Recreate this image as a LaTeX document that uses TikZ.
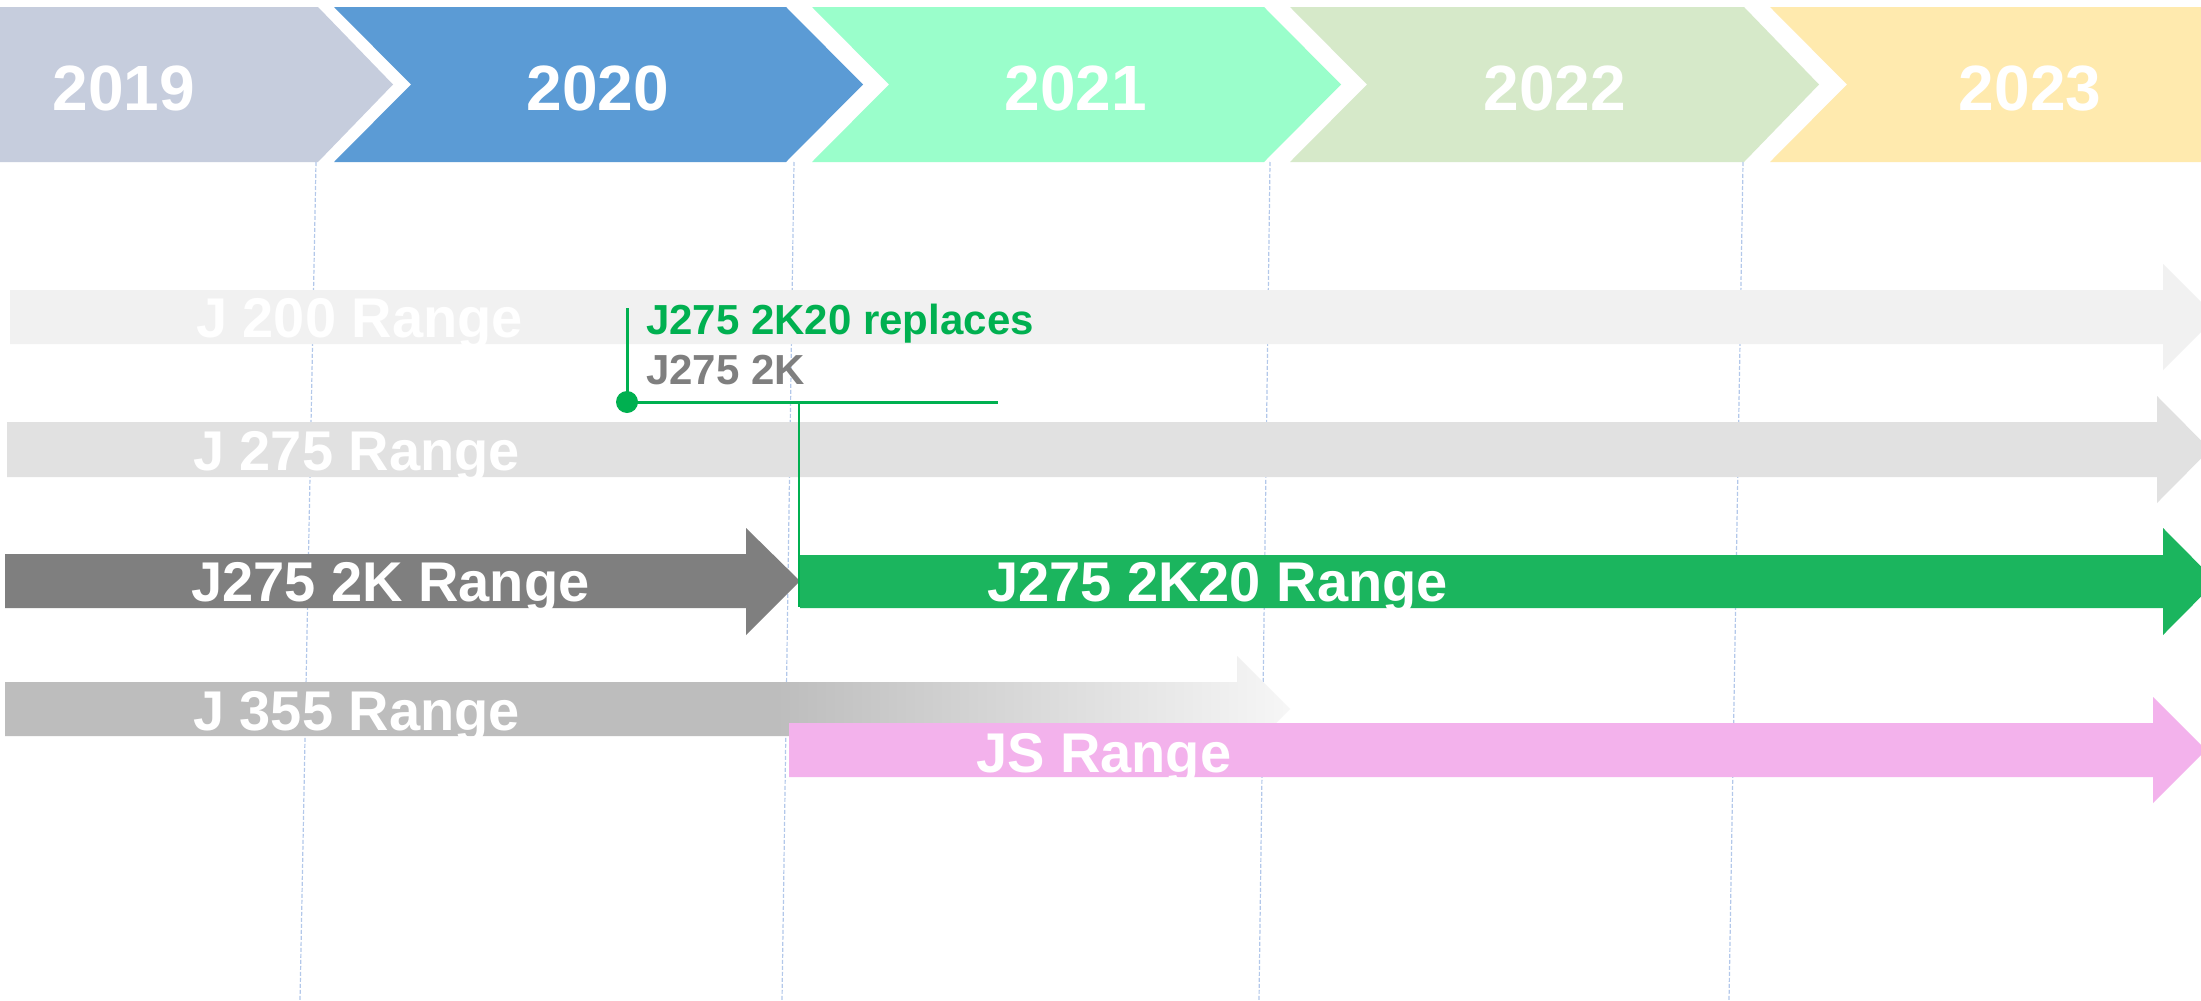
\documentclass[tikz,border=0pt]{standalone}
\usepackage{fontspec}
\setmainfont{Liberation Sans}
\definecolor{c2019}{HTML}{C6CDDD}
\definecolor{c2020}{HTML}{5B9BD5}
\definecolor{c2021}{HTML}{9AFECB}
\definecolor{c2022}{HTML}{D6E9C9}
\definecolor{c2023}{HTML}{FFEAAE}
\definecolor{cj200}{HTML}{F1F1F1}
\definecolor{cj275}{HTML}{E1E1E1}
\definecolor{cgray}{HTML}{7F7F7F}
\definecolor{cgreen}{HTML}{00B050}
\definecolor{c2k20}{HTML}{1BB55E}
\definecolor{cj355}{HTML}{BDBDBD}
\definecolor{cjs}{HTML}{F3B2EC}
\definecolor{cgrid}{HTML}{B3C8EA}
\pgfdeclarehorizontalshading{fadegray}{100bp}{color(0bp)=(cj355); color(55bp)=(cj355); color(78bp)=(white); color(100bp)=(white)}
\tikzset{
  yearlabel/.style={text=white, font=\fontsize{64}{70}\selectfont\bfseries, anchor=base, inner sep=0pt},
  rangelabel/.style={text=white, font=\fontsize{56}{62}\selectfont\bfseries, anchor=base west, inner sep=0pt},
  notelabel/.style={font=\fontsize{42}{46}\selectfont\bfseries, anchor=base west, inner sep=0pt},
  gridline/.style={draw=cgrid, line width=1.2pt, dash pattern=on 4pt off 2pt},
  noteline/.style={draw=cgreen, line width=3pt},
}
\begin{document}
\begin{tikzpicture}[x=1pt, y=-1pt]
\useasboundingbox (0,0) rectangle (2201,1001);
\clip (0,0) rectangle (2201,1001);
\fill[white] (0,0) rectangle (2201,1001);

% year chevrons
\fill[c2019] (0,7) -- (318,7) -- (393,84.5) -- (318,162) -- (0,162) -- cycle;
\fill[c2020] (334,7) -- (786,7) -- (863,84.5) -- (786,162) -- (334,162) -- (411,84.5) -- cycle;
\fill[c2021] (812,7) -- (1264,7) -- (1341,84.5) -- (1264,162) -- (812,162) -- (889,84.5) -- cycle;
\fill[c2022] (1290,7) -- (1744,7) -- (1819,84.5) -- (1744,162) -- (1290,162) -- (1367,84.5) -- cycle;
\fill[c2023] (1770,7) -- (2201,7) -- (2201,162) -- (1770,162) -- (1847,84.5) -- cycle;

\node[yearlabel] (y2019) at (124,110) {2019};
\node[yearlabel] (y2020) at (598,110) {2020};
\node[yearlabel] (y2021) at (1076,110) {2021};
\node[yearlabel] (y2022) at (1555,110) {2022};
\node[yearlabel] (y2023) at (2030,110) {2023};

% year grid lines
\coordinate (g1t) at (316,162); \coordinate (g1b) at (300,1001);
\coordinate (g2t) at (794,162); \coordinate (g2b) at (782,1001);
\coordinate (g3t) at (1270,162); \coordinate (g3b) at (1259,1001);
\coordinate (g4t) at (1743,162); \coordinate (g4b) at (1729,1001);
\draw[gridline] (g1t) -- (g1b);
\draw[gridline] (g2t) -- (g2b);
\draw[gridline] (g3t) -- (g3b);
\draw[gridline] (g4t) -- (g4b);

% range arrows
\fill[cj200] (10,290) -- (2163,290) -- (2163,264) -- (2216,317) -- (2163,370) -- (2163,344) -- (10,344) -- cycle;
\fill[cj275] (7,422) -- (2157,422) -- (2157,396) -- (2210,449.5) -- (2157,503) -- (2157,477) -- (7,477) -- cycle;
\fill[cgray] (5,554) -- (746,554) -- (746,528) -- (800,581) -- (746,635) -- (746,608) -- (5,608) -- cycle;
\fill[c2k20] (800,555) -- (2163,555) -- (2163,528) -- (2216,581.5) -- (2163,635) -- (2163,608) -- (800,608) -- cycle;
\path[shading=fadegray] (5,682) -- (1237,682) -- (1237,656) -- (1290,709) -- (1237,762) -- (1237,736) -- (5,736) -- cycle;
\fill[cjs] (789,723) -- (2153,723) -- (2153,697) -- (2206,750) -- (2153,803) -- (2153,777) -- (789,777) -- cycle;

\node[rangelabel] (l200) at (196,337) {J 200 Range};
\node[rangelabel] (l275) at (193,470) {J 275 Range};
\node[rangelabel] (l2k) at (191,601) {J275 2K Range};
\node[rangelabel] (l2k20) at (987,601) {J275 2K20 Range};
\node[rangelabel] (l355) at (193,730) {J 355 Range};
\node[rangelabel] (ljs) at (976,772) {JS Range};

% annotation
\node[notelabel, text=cgreen] (n1) at (646,334) {J275 2K20 replaces};
\node[notelabel, text=cgray] (n2) at (646,384) {J275 2K};
\coordinate (antop) at (627,308);
\coordinate (anend) at (998,402);
\coordinate (anbar) at (799,607);
\draw[noteline] (antop) -- (627,402);
\draw[noteline] (627,402) -- (anend);
\draw[draw=cgreen, line width=2.2pt] (anbar |- anend) -- (anbar);
\node[circle, fill=cgreen, minimum size=22pt, inner sep=0pt] (dot) at (627,402) {};
\end{tikzpicture}
\end{document}
